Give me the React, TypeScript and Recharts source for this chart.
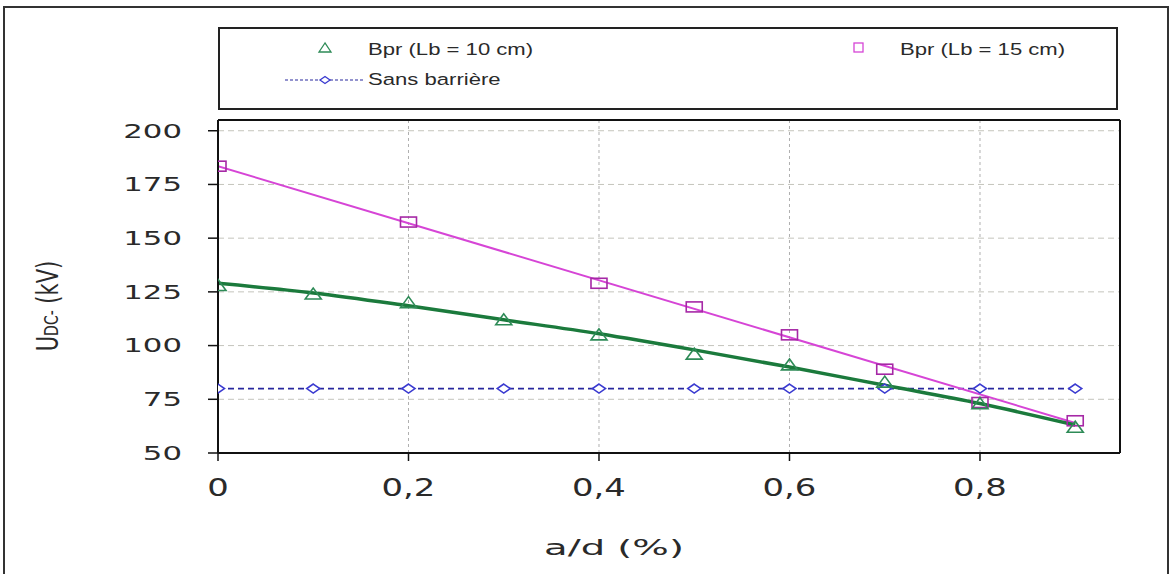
import React from "react";
import {
  ComposedChart,
  Line,
  XAxis,
  YAxis,
  CartesianGrid,
  ReferenceLine,
  Legend
} from "recharts";

// a/d positions of the measurements
const xPoints = [0, 0.1, 0.2, 0.3, 0.4, 0.5, 0.6, 0.7, 0.8, 0.9];

// Bpr (Lb = 10 cm): measured points and the fitted curve
const bpr10 = [128, 124, 120, 112, 105, 96, 91, 83, 73, 62];
const bpr10Fit = [129, 124.5, 118.5, 112, 105.5, 98, 90, 81.5, 73, 63];

// Bpr (Lb = 15 cm)
const xBpr15 = [0, 0.2, 0.4, 0.5, 0.6, 0.7, 0.8, 0.9];
const bpr15 = [183.5, 157.5, 129, 118, 105, 89, 73.5, 65];
const xBpr15Fit = [0, 0.9];
const bpr15Fit = [183.5, 64];

// Sans barrière
const sansBarriere = [80, 80, 80, 80, 80, 80, 80, 80, 80, 80];

const xTicks = [0, 0.2, 0.4, 0.6, 0.8];
const yTicks = [50, 75, 100, 125, 150, 175, 200];

const FONT = '"DejaVu Sans", Verdana, sans-serif';
const LEGEND_FONT = '"Liberation Sans", Arial, sans-serif';

const GREEN = "#2e8b57";
const GREEN_LINE = "#1b7a3c";
const MAGENTA = "#a628a6";
const MAGENTA_LINE = "#d645d6";
const BLUE = "#3a3ad0";
const BLUE_LINE = "#28289e";

const toPoints = (xs: number[], ys: number[]) => xs.map((x, i) => ({ x, y: ys[i] }));

const dataBpr10 = toPoints(xPoints, bpr10);
const dataBpr10Fit = toPoints(xPoints, bpr10Fit);
const dataBpr15 = toPoints(xBpr15, bpr15);
const dataBpr15Fit = toPoints(xBpr15Fit, bpr15Fit);
const dataSans = toPoints(xPoints, sansBarriere);

const TriangleDot = (props: any) => {
  const { cx, cy, index } = props;
  if (cx == null || cy == null) return <g key={`t-${index}`} />;
  return (
    <polygon
      key={`t-${index}`}
      points={`${cx},${cy - 6} ${cx - 8},${cy + 5} ${cx + 8},${cy + 5}`}
      fill="none"
      stroke={GREEN}
      strokeWidth={1.6}
    />
  );
};

const SquareDot = (props: any) => {
  const { cx, cy, index } = props;
  if (cx == null || cy == null) return <g key={`s-${index}`} />;
  return (
    <rect key={`s-${index}`} x={cx - 8} y={cy - 5} width={16} height={10} fill="none" stroke={MAGENTA} strokeWidth={1.6} />
  );
};

const DiamondDot = (props: any) => {
  const { cx, cy, index } = props;
  if (cx == null || cy == null) return <g key={`d-${index}`} />;
  return (
    <polygon
      key={`d-${index}`}
      points={`${cx},${cy - 4.5} ${cx + 6.5},${cy} ${cx},${cy + 4.5} ${cx - 6.5},${cy}`}
      fill="#fff"
      stroke={BLUE}
      strokeWidth={1.6}
    />
  );
};

const XTick = (props: any) => {
  const { x, y, payload } = props;
  const v = payload.value as number;
  const label = v === 0 ? "0" : v.toFixed(1).replace(".", ",");
  return (
    <g transform={`translate(${x},${y}) scale(1.41,1)`}>
      <text x={0} y={35} textAnchor="middle" fontFamily={FONT} fontSize={24} fill="#2a2a2a">
        {label}
      </text>
    </g>
  );
};

const YTick = (props: any) => {
  const { x, y, payload } = props;
  return (
    <g transform={`translate(${x},${y}) scale(1.62,1)`}>
      <text x={0} y={0} dy="0.36em" textAnchor="end" fontFamily={FONT} fontSize={19} fill="#2a2a2a">
        {payload.value}
      </text>
    </g>
  );
};

const XTitle = (props: any) => {
  const { viewBox } = props;
  const cx = viewBox.x + 396;
  const cy = viewBox.y + 102;
  return (
    <g transform={`translate(${cx},${cy}) scale(1.75,1)`}>
      <text x={0} y={0} textAnchor="middle" fontFamily={FONT} fontSize={22} fill="#2a2a2a">
        a/d (%)
      </text>
    </g>
  );
};

const YTitle = (props: any) => {
  const { viewBox } = props;
  const cx = viewBox.x - 100;
  const cy = viewBox.y + 186;
  return (
    <g transform={`translate(${cx},${cy}) scale(1.4,1) rotate(-90)`}>
      <text x={0} y={0} textAnchor="middle" fontFamily={FONT} fontSize={21} fill="#2a2a2a">
        U<tspan fontSize={14}>DC-</tspan> (kV)
      </text>
    </g>
  );
};

const LegendBox = () => (
  <div style={{ width: 896, height: 79, border: "2px solid #222", background: "#fff" }}>
    <svg width={896} height={79}>
      <g fontFamily={LEGEND_FONT} fontSize={17} fill="#2a2a2a">
        <polygon points="105,14 99,23 111,23" fill="none" stroke={GREEN} strokeWidth={1.3} />
        <g transform="translate(148,26) scale(1.3,1)">
          <text x={0} y={0}>Bpr (Lb = 10 cm)</text>
        </g>
        <rect x={634} y={14} width={9} height={9} fill="none" stroke={MAGENTA_LINE} strokeWidth={1.3} />
        <g transform="translate(680,26) scale(1.3,1)">
          <text x={0} y={0}>Bpr (Lb = 15 cm)</text>
        </g>
        <line x1={65} y1={51} x2={144} y2={51} stroke={BLUE_LINE} strokeWidth={1.2} strokeDasharray="3 2" />
        <polygon points="105,47.5 110,51 105,54.5 100,51" fill="#fff" stroke={BLUE} strokeWidth={1.3} />
        <g transform="translate(148,56) scale(1.3,1)">
          <text x={0} y={0}>Sans barrière</text>
        </g>
      </g>
    </svg>
  </div>
);

export default function App() {
  return (
    <div style={{ position: "absolute", left: 0, top: 0, width: 1174, height: 574, overflow: "hidden", background: "#fff" }}>
      <div
        style={{
          position: "absolute",
          left: 3,
          top: 6,
          width: 1166,
          height: 620,
          border: "2px solid #333",
          boxSizing: "border-box"
        }}
      />
      <div style={{ position: "absolute", left: 0, top: 0 }}>
        <ComposedChart width={1174} height={574} margin={{ top: 120, right: 54, bottom: 81, left: 158 }}>
          <CartesianGrid horizontal={true} vertical={false} stroke="#c4c4bc" strokeDasharray="6 4" />
          <CartesianGrid horizontal={false} vertical={true} stroke="#b0b0b0" strokeDasharray="3 3" />
          <XAxis
            dataKey="x"
            type="number"
            domain={[0, 0.947]}
            allowDataOverflow
            ticks={xTicks}
            height={40}
            tickSize={8}
            tickMargin={0}
            tick={<XTick />}
            axisLine={{ stroke: "#111", strokeWidth: 2 }}
            tickLine={{ stroke: "#111", strokeWidth: 1.5 }}
            label={<XTitle />}
          />
          <YAxis
            type="number"
            domain={[50, 205]}
            allowDataOverflow
            ticks={yTicks}
            width={60}
            tickSize={10}
            tickMargin={26}
            tick={<YTick />}
            axisLine={{ stroke: "#111", strokeWidth: 2 }}
            tickLine={{ stroke: "#111", strokeWidth: 1.5 }}
            label={<YTitle />}
          />
          <ReferenceLine y={205} stroke="#111" strokeWidth={2} />
          <ReferenceLine x={0.947} stroke="#111" strokeWidth={2} />
          <Legend
            layout="horizontal"
            verticalAlign="middle"
            align="center"
            wrapperStyle={{ top: 27, left: 218, width: 900, height: 83 }}
            content={() => <LegendBox />}
          />
          <Line
            data={dataSans}
            dataKey="y"
            name="Sans barrière"
            stroke={BLUE_LINE}
            strokeWidth={1.7}
            strokeDasharray="6 4"
            dot={DiamondDot}
            isAnimationActive={false}
          />
          <Line
            data={dataBpr15Fit}
            dataKey="y"
            name="fit15"
            stroke={MAGENTA_LINE}
            strokeWidth={2}
            dot={false}
            legendType="none"
            isAnimationActive={false}
          />
          <Line
            data={dataBpr10Fit}
            dataKey="y"
            name="fit10"
            type="monotone"
            stroke={GREEN_LINE}
            strokeWidth={3.5}
            dot={false}
            legendType="none"
            isAnimationActive={false}
          />
          <Line
            data={dataBpr15}
            dataKey="y"
            name="Bpr (Lb = 15 cm)"
            stroke="none"
            dot={SquareDot}
            isAnimationActive={false}
          />
          <Line
            data={dataBpr10}
            dataKey="y"
            name="Bpr (Lb = 10 cm)"
            stroke="none"
            dot={TriangleDot}
            isAnimationActive={false}
          />
        </ComposedChart>
      </div>
    </div>
  );
}
